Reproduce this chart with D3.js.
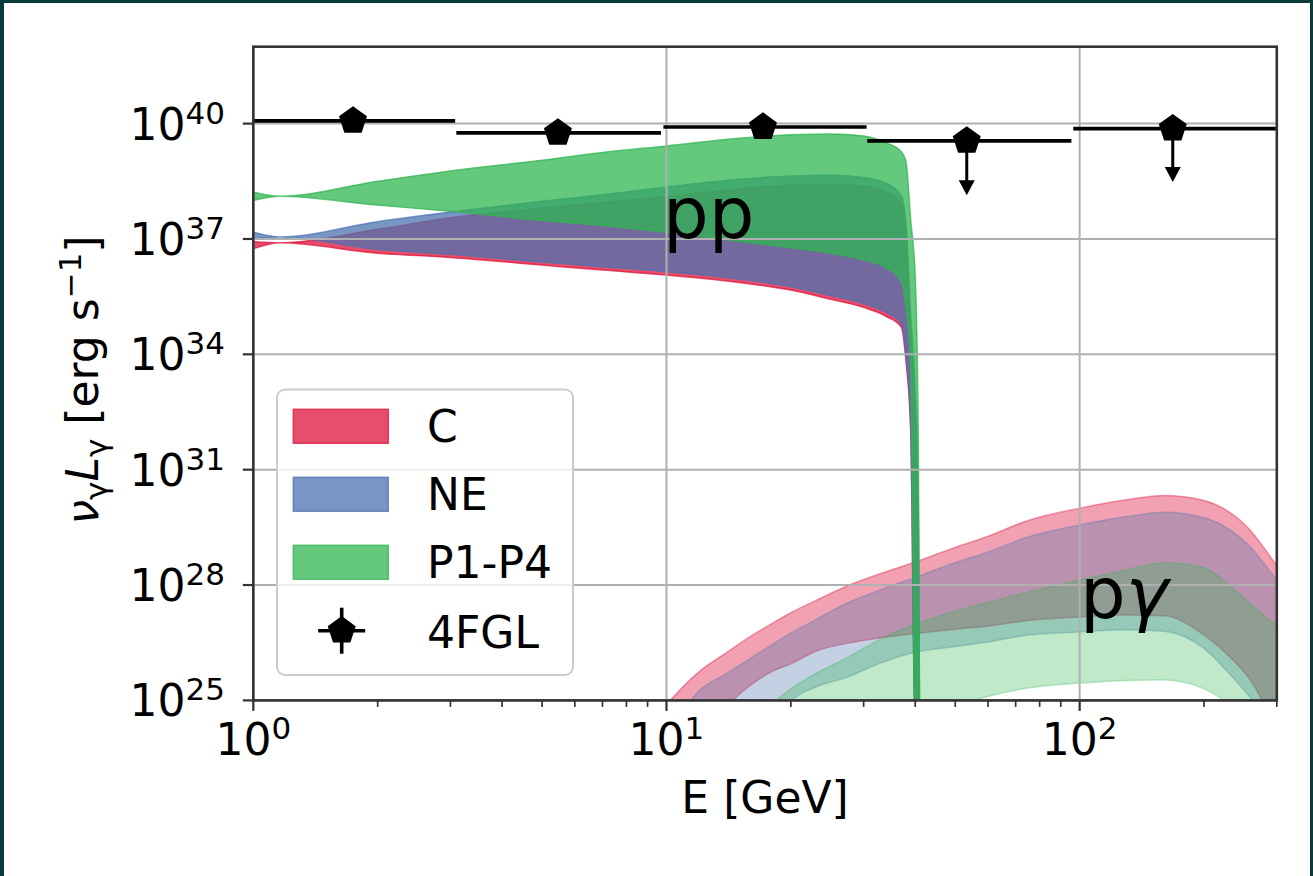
<!DOCTYPE html>
<html><head><meta charset="utf-8">
<script src="https://cdn.jsdelivr.net/npm/d3@7"></script>
<style>
html,body{margin:0;padding:0;background:#fff;}
svg{display:block;}
text{font-family:"DejaVu Sans",sans-serif;fill:#000;}
</style></head><body>
<svg id="chart" width="1313" height="876"></svg>
<script>
// ---------- data (luminosities as log10 of erg/s) ----------
const ppE      = [1, 1.16, 2, 3, 5, 7, 10, 15, 20, 25, 30, 34, 37, 38, 39, 40, 40.7, 41];
const ppC_lo   = [36.75, 36.9, 36.63, 36.52, 36.32, 36.19, 36.06, 35.87, 35.67, 35.43, 35.22, 34.99, 34.71, 33.8, 32.0, 24, 24, 24];
const ppC_hi   = [36.93, 36.9, 37.25, 37.55, 37.8, 37.95, 38.1, 38.3, 38.4, 38.42, 38.38, 38.22, 37.9, 37.1, 34.5, 32.5, 29.5, 24];
const ppNE_lo  = [37.0, 37.05, 36.73, 36.6, 36.4, 36.28, 36.15, 35.96, 35.76, 35.53, 35.32, 35.09, 34.8, 33.95, 32.2, 24, 24, 24];
const ppNE_hi  = [37.18, 37.05, 37.45, 37.7, 37.98, 38.15, 38.35, 38.55, 38.64, 38.66, 38.6, 38.45, 38.12, 37.4, 35.0, 33.0, 30.0, 24];
const ppG_lo   = [38.0, 38.11, 37.88, 37.72, 37.48, 37.35, 37.17, 36.94, 36.77, 36.63, 36.45, 36.25, 35.9, 35.2, 33.8, 24, 24, 24];
const ppG_hi   = [38.22, 38.11, 38.5, 38.77, 39.05, 39.25, 39.42, 39.62, 39.71, 39.73, 39.68, 39.5, 39.27, 39.0, 37.5, 36.0, 31.7, 24];

const pgE      = [10, 12, 14, 16, 18, 20, 23, 27, 33, 40, 50, 60, 75, 100, 130, 160, 200, 230, 260, 280, 300];
const pgC_hi   = [24.9, 25.75, 26.25, 26.67, 27.0, 27.28, 27.6, 27.95, 28.3, 28.6, 28.98, 29.27, 29.68, 30.0, 30.22, 30.33, 30.2, 29.9, 29.4, 28.95, 28.5];
const pgC_lo   = [23.0, 24.0, 24.85, 25.4, 25.75, 25.95, 26.28, 26.47, 26.63, 26.74, 26.85, 26.93, 27.08, 27.17, 27.22, 27.2, 26.7, 26.15, 25.5, 24.9, 24.3];
const pgNE_hi  = [24.0, 25.25, 25.7, 26.1, 26.45, 26.75, 27.1, 27.5, 27.88, 28.2, 28.58, 28.86, 29.25, 29.56, 29.78, 29.89, 29.75, 29.45, 28.97, 28.55, 28.12];
const pgNE_lo  = [22.0, 22.5, 23.0, 23.5, 24.3, 24.98, 25.35, 25.58, 25.97, 26.25, 26.4, 26.52, 26.7, 26.78, 26.84, 26.8, 26.35, 25.7, 25.05, 24.6, 24.2];
const pgG_hi   = [22.0, 22.8, 23.5, 24.3, 24.9, 25.3, 25.7, 26.08, 26.6, 26.98, 27.32, 27.55, 27.82, 28.13, 28.4, 28.58, 28.45, 28.0, 27.5, 27.2, 26.95];
const pgG_lo   = [21.0, 21.5, 22.0, 22.5, 23.0, 23.3, 23.6, 23.9, 24.2, 24.5, 24.85, 25.1, 25.32, 25.45, 25.52, 25.53, 25.3, 24.9, 24.4, 24.1, 23.8];

// 4FGL points
const fglE      = [1.743, 5.46, 17.12, 53.3, 168];
const fglElo    = [0.97, 3.1, 9.83, 30.6, 96.5];
const fglEhi    = [3.08, 9.7, 30.5, 95.5, 310];
const fglL      = [40.07, 39.76, 39.91, 39.55, 39.87];
const fglUpper  = [false, false, false, true, true];
const fglArrowTo= [null, null, null, 38.14, 38.48];

const xTickExp = [0, 1, 2];
const yTickExp = [25, 28, 31, 34, 37, 40];
const sources  = ["C", "NE", "P1-P4"];
const colors   = ["#dc143c", "#4c72b0", "#30b651"];

// ---------- layout ----------
const W = 1313, H = 876;
const L = 253.3, R = 1276.8, T = 46.7, B = 700.4;
const FS = 44, SUP = 31;

const svg = d3.select("#chart");
svg.append("rect").attr("width", W).attr("height", H).attr("fill", "#083c3a");
svg.append("rect").attr("x", 4).attr("y", 3).attr("width", 1306).attr("height", 873).attr("fill", "#fff");

const x = d3.scaleLog().domain([1, 300]).range([L, R]);
const y = d3.scaleLog().domain([1e25, 1e42]).range([B, T]);

svg.append("defs").append("clipPath").attr("id", "clip")
  .append("rect").attr("x", L).attr("y", T).attr("width", R - L).attr("height", B - T);
const plot = svg.append("g").attr("clip-path", "url(#clip)");

function band(E, lo, hi, color, alpha) {
  const data = E.map((e, i) => ({ e, lo: Math.pow(10, lo[i]), hi: Math.pow(10, hi[i]) }));
  const area = d3.area().x(d => x(d.e)).y0(d => y(d.lo)).y1(d => y(d.hi)).curve(d3.curveMonotoneX);
  plot.append("path").attr("d", area(data))
    .attr("fill", color).attr("fill-opacity", alpha)
    .attr("stroke", color).attr("stroke-opacity", alpha).attr("stroke-width", 1.5);
}
const ppA = 0.75;
band(ppE, ppC_lo, ppC_hi, colors[0], ppA);
band(pgE, pgC_lo, pgC_hi, colors[0], 0.4);
band(ppE, ppNE_lo, ppNE_hi, colors[1], ppA);
band(pgE, pgNE_lo, pgNE_hi, colors[1], 0.33);
band(ppE, ppG_lo, ppG_hi, colors[2], ppA);
band(pgE, pgG_lo, pgG_hi, colors[2], 0.3);

// grid
const grid = svg.append("g");
xTickExp.forEach(k => {
  grid.append("line").attr("x1", x(10 ** k)).attr("x2", x(10 ** k)).attr("y1", T).attr("y2", B)
    .attr("stroke", "#b0b0b0").attr("stroke-width", 2);
});
yTickExp.forEach(k => {
  grid.append("line").attr("x1", L).attr("x2", R).attr("y1", y(10 ** k)).attr("y2", y(10 ** k))
    .attr("stroke", "#b0b0b0").attr("stroke-width", 2);
});

// 4FGL
function pentagon(cx, cy, r) {
  const pts = d3.range(5).map(i => {
    const a = -Math.PI / 2 + i * 2 * Math.PI / 5;
    return [cx + r * Math.cos(a), cy + r * Math.sin(a)];
  });
  return "M" + pts.map(p => p.join(",")).join("L") + "Z";
}
const eb = svg.append("g");
const ebClip = eb.append("g").attr("clip-path", "url(#clip)");
fglE.forEach((e, i) => {
  const cy = y(10 ** fglL[i]);
  ebClip.append("line").attr("x1", x(fglElo[i])).attr("x2", x(fglEhi[i])).attr("y1", cy).attr("y2", cy)
    .attr("stroke", "#000").attr("stroke-width", 3.6);
  if (fglUpper[i]) {
    const ye = y(10 ** fglArrowTo[i]);
    const cx = x(e);
    ebClip.append("line").attr("x1", cx).attr("x2", cx).attr("y1", cy).attr("y2", ye - 6)
      .attr("stroke", "#000").attr("stroke-width", 3.0);
    ebClip.append("path").attr("d", `M${cx - 8},${ye - 15}L${cx + 8},${ye - 15}L${cx},${ye}Z`).attr("fill", "#000");
  }
  eb.append("path").attr("d", pentagon(x(e), cy, 14.7)).attr("fill", "#000");
});

// region labels
svg.append("text").attr("x", 663).attr("y", 238).attr("font-size", 72).text("pp");
const pg = svg.append("text").attr("x", 1080).attr("y", 618).attr("font-size", 72);
pg.append("tspan").text("p");
pg.append("tspan").attr("font-style", "italic").text("γ");

// spines
const ax = svg.append("g");
ax.append("rect").attr("x", L).attr("y", T).attr("width", R - L).attr("height", B - T)
  .attr("fill", "none").attr("stroke", "#333").attr("stroke-width", 2.6);

// x ticks
const minor = [];
[1, 10, 100].forEach(d => { for (let m = 2; m <= 9; m++) { const v = d * m; if (v <= 300.5) minor.push(v); } });
minor.forEach(v => {
  ax.append("line").attr("x1", x(v)).attr("x2", x(v)).attr("y1", B).attr("y2", B + 6.5)
    .attr("stroke", "#333").attr("stroke-width", 1.7);
});
xTickExp.forEach(k => {
  const xv = x(10 ** k);
  ax.append("line").attr("x1", xv).attr("x2", xv).attr("y1", B).attr("y2", B + 10.5)
    .attr("stroke", "#333").attr("stroke-width", 2.2);
  const t = ax.append("text").attr("x", xv).attr("y", 755).attr("text-anchor", "middle").attr("font-size", FS);
  t.append("tspan").text("10");
  t.append("tspan").attr("font-size", SUP).attr("dy", -16).text(String(k));
});
yTickExp.forEach(k => {
  const yv = y(10 ** k);
  ax.append("line").attr("x1", L - 10.5).attr("x2", L).attr("y1", yv).attr("y2", yv)
    .attr("stroke", "#333").attr("stroke-width", 2.2);
  const t = ax.append("text").attr("x", 225).attr("y", yv + 16).attr("text-anchor", "end").attr("font-size", FS);
  t.append("tspan").text("10");
  t.append("tspan").attr("font-size", SUP).attr("dy", -16).text(String(k));
});

// axis labels
svg.append("text").attr("x", (L + R) / 2).attr("y", 813).attr("text-anchor", "middle")
  .attr("font-size", FS).text("E [GeV]");
const yl = svg.append("text").attr("transform", "translate(98,380) rotate(-90)")
  .attr("text-anchor", "middle").attr("font-size", FS);
yl.append("tspan").attr("font-style", "italic").text("ν");
yl.append("tspan").attr("font-size", SUP).attr("dy", 9).text("γ");
yl.append("tspan").attr("font-style", "italic").attr("dy", -9).text("L");
yl.append("tspan").attr("font-size", SUP).attr("dy", 9).text("γ");
yl.append("tspan").attr("dy", -9).text(" [erg s");
yl.append("tspan").attr("font-size", SUP).attr("dy", -17).text("−1");
yl.append("tspan").attr("dy", 17).text("]");

// legend
const lg = svg.append("g");
lg.append("rect").attr("x", 277).attr("y", 389.5).attr("width", 296).attr("height", 285.5).attr("rx", 8)
  .attr("fill", "#fff").attr("fill-opacity", 0.8).attr("stroke", "#cccccc").attr("stroke-width", 2);
const rowY = [426.3, 494.3, 562.3, 630.7];
sources.forEach((s, i) => {
  lg.append("rect").attr("x", 293.3).attr("y", rowY[i] - 17).attr("width", 95).attr("height", 34)
    .attr("fill", colors[i]).attr("fill-opacity", ppA)
    .attr("stroke", colors[i]).attr("stroke-opacity", ppA).attr("stroke-width", 1.5);
  lg.append("text").attr("x", 427).attr("y", rowY[i] + 16).attr("font-size", FS).text(s);
});
const hx = 341.7, hy = rowY[3];
lg.append("line").attr("x1", hx - 23.5).attr("x2", hx + 23.5).attr("y1", hy).attr("y2", hy).attr("stroke", "#000").attr("stroke-width", 3.6);
lg.append("line").attr("x1", hx).attr("x2", hx).attr("y1", hy - 23).attr("y2", hy + 23).attr("stroke", "#000").attr("stroke-width", 3.6);
lg.append("path").attr("d", pentagon(hx, hy, 14.7)).attr("fill", "#000");
lg.append("text").attr("x", 427).attr("y", hy + 17.5).attr("font-size", FS).text("4FGL");
</script>
</body></html>
